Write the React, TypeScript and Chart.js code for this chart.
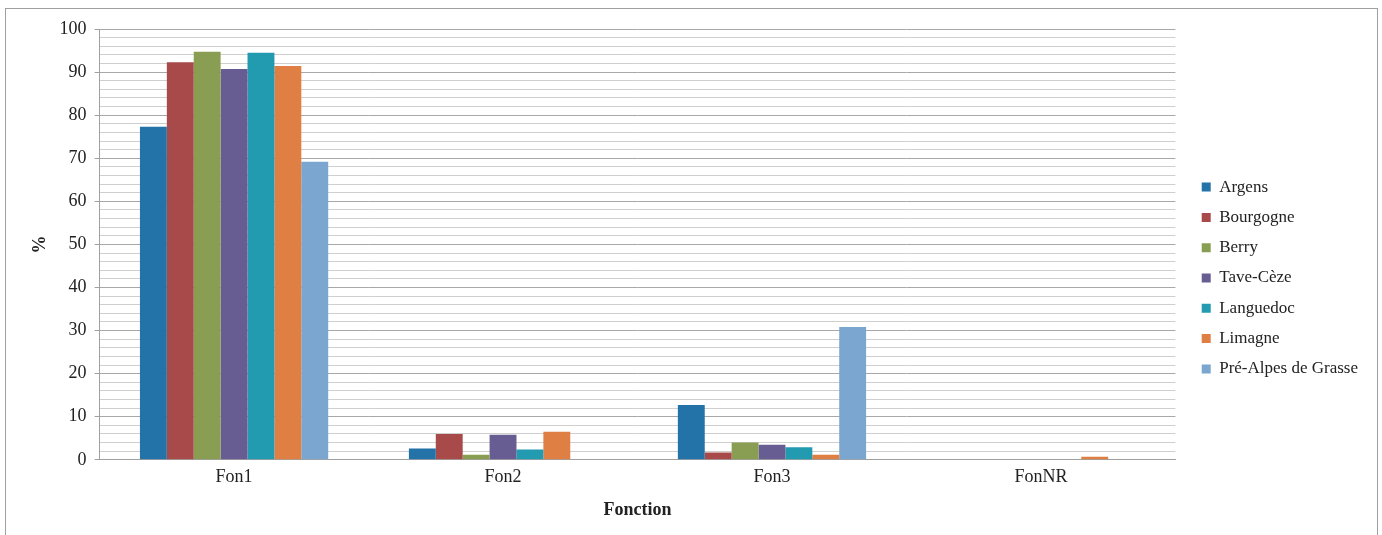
import React, { useEffect, useRef } from "react";
import { Chart, registerables } from "chart.js";

Chart.register(...registerables);

const categories = ["Fon1", "Fon2", "Fon3", "FonNR"];
const seriesNames = ["Argens", "Bourgogne", "Berry", "Tave-Cèze", "Languedoc", "Limagne", "Pré-Alpes de Grasse"];
const argens = [77.3, 2.6, 12.7, 0];
const bourgogne = [92.3, 6.0, 1.7, 0];
const berry = [94.7, 1.2, 4.0, 0];
const taveCeze = [90.7, 5.8, 3.5, 0];
const languedoc = [94.5, 2.4, 2.9, 0];
const limagne = [91.4, 6.5, 1.2, 0.7];
const preAlpes = [69.2, 0, 30.8, 0];
const seriesColors = ["#2373A9", "#A94A4A", "#8A9E53", "#675D93", "#229AB0", "#E07F43", "#7BA6CF"];
const yTickValues = [0, 10, 20, 30, 40, 50, 60, 70, 80, 90, 100];

const FONT = "'Liberation Serif', 'Times New Roman', serif";

const legendShift = {
  id: "legendShift",
  afterLayout(chart: any) {
    const l = chart.legend;
    if (l) {
      l.left += 13;
      l.right += 13;
      l.top += 3;
      l.bottom += 3;
    }
  },
};

export default function App() {
  const ref = useRef<HTMLCanvasElement | null>(null);
  useEffect(() => {
    if (!ref.current) return;
    const all = [argens, bourgogne, berry, taveCeze, languedoc, limagne, preAlpes];
    const chart = new Chart(ref.current, {
      type: "bar",
      data: {
        labels: categories,
        datasets: all.map((d, i) => ({
          label: seriesNames[i],
          data: d,
          backgroundColor: seriesColors[i],
          borderWidth: 0,
          categoryPercentage: 0.7,
          barPercentage: 1.0,
        })),
      },
      plugins: [legendShift],
      options: {
        animation: false,
        responsive: false,
        maintainAspectRatio: false,
        layout: { padding: { left: 30, right: 27, top: 29, bottom: 14 } },
        plugins: {
          legend: {
            position: "right",
            align: "center",
            labels: {
              boxWidth: 9,
              boxHeight: 9,
              padding: 13.3,
              color: "#222",
              font: { family: FONT, size: 17 },
            },
          },
          tooltip: { enabled: false },
        },
        scales: {
          x: {
            grid: { display: false, drawTicks: false },
            border: { display: true, color: "#a0a0a0", width: 1 },
            ticks: { color: "#222", font: { family: FONT, size: 18 }, padding: 7 },
            title: {
              display: true,
              text: "Fonction",
              color: "#222",
              font: { family: FONT, size: 18, weight: "bold" },
              padding: { top: 4, bottom: 0 },
            },
          },
          y: {
            min: 0,
            max: 100,
            ticks: {
              stepSize: 2,
              autoSkip: false,
              color: "#222",
              font: { family: FONT, size: 18 },
              padding: 8,
              callback: (v: any) => (yTickValues.includes(Number(v)) ? String(v) : ""),
            },
            grid: {
              color: (c: any) => (c.tick && c.tick.value % 10 === 0 ? "#a8a8a8" : "#cfcfcf"),
              tickColor: (c: any) => (c.tick && c.tick.value % 10 === 0 ? "#a0a0a0" : "rgba(0,0,0,0)"),
              tickLength: 5,
              lineWidth: 1,
            },
            border: { display: true, color: "#a0a0a0", width: 1 },
            title: {
              display: true,
              text: "%",
              color: "#222",
              font: { family: FONT, size: 18, weight: "bold" },
              padding: { top: 0, bottom: 0 },
            },
          },
        },
      },
    });
    return () => chart.destroy();
  }, []);
  return (
    <div style={{ position: "fixed", left: 0, top: 0, width: 1382, height: 535, background: "#fff" }}>
      <div
        style={{
          position: "absolute",
          left: 5,
          top: 8,
          width: 1373,
          height: 540,
          border: "1px solid #a0a0a0",
          boxSizing: "border-box",
        }}
      />
      <canvas ref={ref} width={1382} height={535} style={{ position: "absolute", left: 0, top: 0 }} />
    </div>
  );
}
